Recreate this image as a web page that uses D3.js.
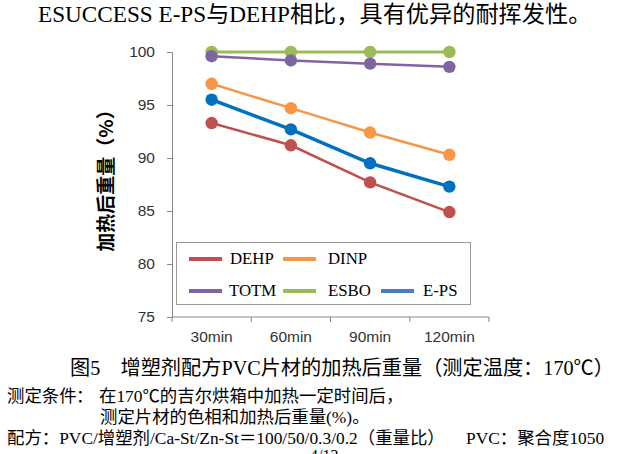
<!DOCTYPE html>
<html>
<head>
<meta charset="utf-8">
<script src="https://cdn.jsdelivr.net/npm/d3@7"></script>
<style>
  html, body { margin: 0; padding: 0; background: #fff; }
  svg { display: block; }
</style>
</head>
<body>
<svg id="chart" width="620" height="454"></svg>
<script>
const categories = ["30min", "60min", "90min", "120min"];
const seriesNames = ["DEHP", "DINP", "TOTM", "ESBO", "E-PS"];
const dehp = [93.3, 91.2, 87.7, 84.9];
const dinp = [97.0, 94.7, 92.4, 90.3];
const totm = [99.6, 99.2, 98.9, 98.6];
const esbo = [100, 100, 100, 100];
const eps  = [95.5, 92.7, 89.5, 87.3];
const yTicks = [75, 80, 85, 90, 95, 100];

const seriesValues = [dehp, dinp, totm, esbo, eps];
const colors = ["#C0504D", "#F79646", "#8064A2", "#9BBB59", "#0070C0"];
const legendColors = ["#C0504D", "#F79646", "#8064A2", "#9BBB59", "#4A7EBB"];
const widths = [2.5, 2.5, 2.5, 3, 3.5];

const serif = "'Liberation Serif', 'Times New Roman', 'Noto Sans CJK SC', serif";
const sans = "'Liberation Sans', Arial, sans-serif";
const cjk = "'Liberation Serif', 'Noto Sans CJK SC', serif";

const svg = d3.select("#chart");

const x = d3.scaleBand().domain(categories).range([172, 489]).padding(0);
const y = d3.scaleLinear().domain([75, 100]).range([317, 52]);

// Title
svg.append("text").attr("x", 38).attr("y", 22)
  .attr("font-family", cjk).attr("font-size", 23.2).attr("fill", "#000")
  .text("ESUCCESS E-PS与DEHP相比，具有优异的耐挥发性。");

// Y axis
const yAxis = d3.axisLeft(y).tickValues(yTicks).tickSize(5).tickPadding(12);
const gy = svg.append("g").attr("transform", "translate(172,0)").call(yAxis);
gy.select(".domain").attr("stroke", "#868686");
gy.selectAll(".tick line").attr("stroke", "#868686");
gy.selectAll(".tick text").attr("font-family", sans).attr("font-size", 15.5).attr("fill", "#333");

// X axis
const xAxis = d3.axisBottom(x).tickSize(0).tickPadding(14);
const gx = svg.append("g").attr("transform", "translate(0,317)").call(xAxis);
gx.select(".domain").attr("stroke", "#868686").attr("d", "M172,0H489");
gx.selectAll(".tick text").attr("font-family", sans).attr("font-size", 15.5).attr("fill", "#333");
const bounds = categories.map(c => x(c)).concat([x.range()[1]]);
gx.selectAll(".bound").data(bounds).enter().append("line")
  .attr("x1", d => d).attr("x2", d => d).attr("y1", 0).attr("y2", 5)
  .attr("stroke", "#868686");

// Y axis title
svg.append("text")
  .attr("transform", "translate(113,176) rotate(-90)")
  .attr("text-anchor", "middle")
  .attr("font-family", "'Noto Sans CJK SC', sans-serif")
  .attr("font-weight", "bold").attr("font-size", 19).attr("fill", "#000")
  .text("加热后重量（%）");

// Lines
const line = d3.line()
  .x((d, i) => x(categories[i]) + x.bandwidth() / 2)
  .y(d => y(d));

const drawOrder = [3, 2, 1, 4, 0];
drawOrder.forEach(si => {
  const g = svg.append("g");
  g.append("path").datum(seriesValues[si])
    .attr("d", line).attr("fill", "none")
    .attr("stroke", colors[si]).attr("stroke-width", widths[si]);
  g.selectAll("circle").data(seriesValues[si]).enter().append("circle")
    .attr("cx", (d, i) => x(categories[i]) + x.bandwidth() / 2)
    .attr("cy", d => y(d))
    .attr("r", 6.2)
    .attr("fill", colors[si]);
});

// Legend
svg.append("rect").attr("x", 176.5).attr("y", 242.5).attr("width", 294).attr("height", 62)
  .attr("fill", "#fff").attr("stroke", "#9a9a9a").attr("stroke-width", 1);
const legendPos = [
  {lx: 189, ly: 259, tx: 230, ty: 264},
  {lx: 283, ly: 259, tx: 328, ty: 264},
  {lx: 189, ly: 291, tx: 229, ty: 296},
  {lx: 283, ly: 291, tx: 328, ty: 296},
  {lx: 381, ly: 291, tx: 423, ty: 296}
];
seriesNames.forEach((name, i) => {
  const p = legendPos[i];
  svg.append("line").attr("x1", p.lx).attr("x2", p.lx + 33).attr("y1", p.ly).attr("y2", p.ly)
    .attr("stroke", legendColors[i]).attr("stroke-width", 4);
  svg.append("text").attr("x", p.tx).attr("y", p.ty)
    .attr("font-family", serif).attr("font-size", 16.8).attr("fill", "#000").text(name);
});

// Caption
svg.append("text").attr("x", 70).attr("y", 375)
  .attr("font-family", cjk).attr("font-size", 20.2).attr("fill", "#000")
  .text("图5　增塑剂配方PVC片材的加热后重量（测定温度：170℃）");

// Notes
const noteFont = 17.4;
svg.append("text").attr("x", 7).attr("y", 402).attr("font-family", cjk).attr("font-size", noteFont).text("测定条件");
svg.append("text").attr("x", 76).attr("y", 402).attr("font-family", cjk).attr("font-size", noteFont).text("：");
svg.append("text").attr("x", 99).attr("y", 402).attr("font-family", cjk).attr("font-size", noteFont).text("在170℃的吉尔烘箱中加热一定时间后，");
svg.append("text").attr("x", 100).attr("y", 423).attr("font-family", cjk).attr("font-size", noteFont).text("测定片材的色相和加热后重量(%)。");
svg.append("text").attr("x", 7).attr("y", 444).attr("font-family", cjk).attr("font-size", noteFont).text("配方：PVC/增塑剂/Ca-St/Zn-St＝100/50/0.3/0.2（重量比）");
svg.append("text").attr("x", 466).attr("y", 444).attr("font-family", cjk).attr("font-size", noteFont).text("PVC：聚合度1050");
svg.append("text").attr("x", 310).attr("y", 461).attr("font-family", serif).attr("font-size", 16).text("4/13");
</script>
</body>
</html>
